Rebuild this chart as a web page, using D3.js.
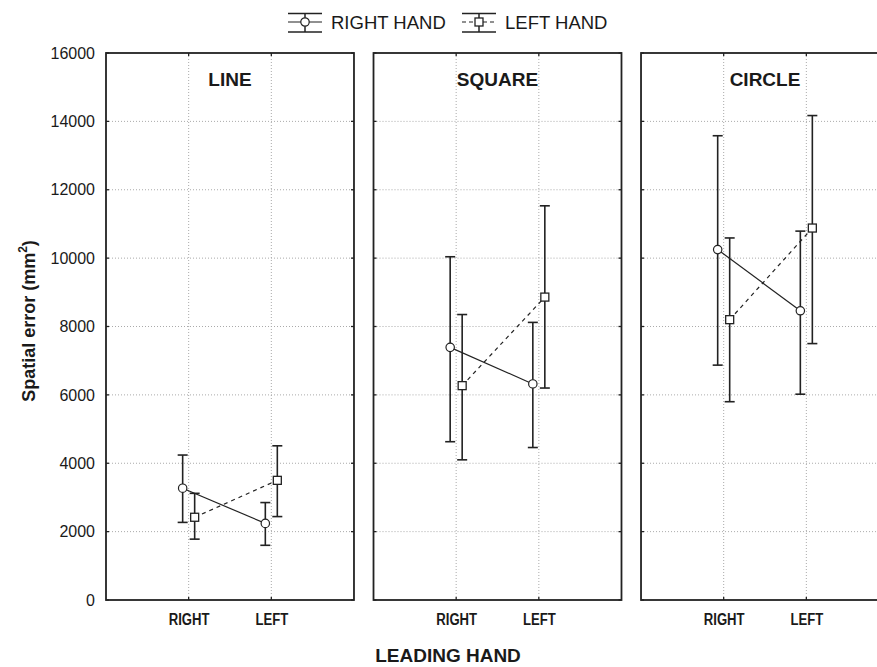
<!DOCTYPE html>
<html>
<head>
<meta charset="utf-8">
<script src="https://cdn.jsdelivr.net/npm/d3@7"></script>
<style>
  html, body { margin: 0; padding: 0; background: #fff; }
  svg { display: block; font-family: "Liberation Sans", Arial, sans-serif; }
</style>
</head>
<body>
<svg id="chart" width="877" height="667"></svg>
<script>
// ---- data ----
const panels = ["LINE", "SQUARE", "CIRCLE"];
const categories = ["RIGHT", "LEFT"];
const seriesNames = ["RIGHT HAND", "LEFT HAND"];
const yTicks = [0, 2000, 4000, 6000, 8000, 10000, 12000, 14000, 16000];

// per panel: [RIGHT, LEFT]
const rightHandMean = [[3270, 2240], [7390, 6320], [10250, 8460]];
const rightHandLow  = [[2270, 1600], [4630, 4460], [6870, 6020]];
const rightHandHigh = [[4240, 2850], [10040, 8120], [13580, 10790]];
const leftHandMean  = [[2420, 3500], [6270, 8860], [8200, 10880]];
const leftHandLow   = [[1780, 2440], [4100, 6200], [5800, 7500]];
const leftHandHigh  = [[3120, 4510], [8350, 11530], [10590, 14170]];

const series = [
  { name: seriesNames[0], mean: rightHandMean, low: rightHandLow, high: rightHandHigh, marker: "circle", dash: null, offset: -6 },
  { name: seriesNames[1], mean: leftHandMean, low: leftHandLow, high: leftHandHigh, marker: "square", dash: "4,4", offset: 6 }
];

const svg = d3.select("#chart");
const plotTop = 53, plotBottom = 600;
const y = d3.scaleLinear().domain([0, 16000]).range([plotBottom, plotTop]);
const panelX = d3.scaleBand().domain(panels).range([106, 889]).paddingInner(0.073).paddingOuter(0);
const pw = panelX.bandwidth();
const x = d3.scalePoint().domain(categories).range([pw / 3, 2 * pw / 3]);

// y axis labels
const yAxis = d3.axisLeft(y).tickValues(yTicks).tickSize(0).tickPadding(11).tickFormat(d3.format("d"));
const yg = svg.append("g").attr("transform", `translate(${panelX(panels[0])},0)`).call(yAxis);
yg.select(".domain").remove();
yg.selectAll("text").attr("font-size", 16).attr("fill", "#1a1a1a").attr("font-family", "Liberation Sans, Arial, sans-serif");

panels.forEach((p, pi) => {
  const g = svg.append("g").attr("transform", `translate(${panelX(p)},0)`);

  // gridlines
  g.selectAll(".hgrid").data(yTicks.filter(t => t > 0 && t < 16000)).join("line")
    .attr("x1", 0).attr("x2", pw).attr("y1", d => y(d)).attr("y2", d => y(d))
    .attr("stroke", "#aaa").attr("stroke-width", 1).attr("stroke-dasharray", "1,2");
  g.selectAll(".vgrid").data(categories).join("line")
    .attr("x1", d => x(d)).attr("x2", d => x(d)).attr("y1", plotTop).attr("y2", plotBottom)
    .attr("stroke", "#aaa").attr("stroke-width", 1).attr("stroke-dasharray", "1,2");

  // inward ticks
  g.selectAll(".ytl").data(yTicks).join("line")
    .attr("x1", 0).attr("x2", 3).attr("y1", d => y(d)).attr("y2", d => y(d))
    .attr("stroke", "#222").attr("stroke-width", 1.3);
  g.selectAll(".ytr").data(yTicks).join("line")
    .attr("x1", pw - 3).attr("x2", pw).attr("y1", d => y(d)).attr("y2", d => y(d))
    .attr("stroke", "#222").attr("stroke-width", 1.3);
  g.selectAll(".xtt").data(categories).join("line")
    .attr("x1", d => x(d)).attr("x2", d => x(d)).attr("y1", plotTop).attr("y2", plotTop + 3)
    .attr("stroke", "#222").attr("stroke-width", 1.3);
  g.selectAll(".xtb").data(categories).join("line")
    .attr("x1", d => x(d)).attr("x2", d => x(d)).attr("y1", plotBottom - 3).attr("y2", plotBottom)
    .attr("stroke", "#222").attr("stroke-width", 1.3);

  // frame
  g.append("rect").attr("x", 0).attr("y", plotTop).attr("width", pw).attr("height", plotBottom - plotTop)
    .attr("fill", "none").attr("stroke", "#222").attr("stroke-width", 1.8);

  // category labels
  const xAxis = d3.axisBottom(x).tickSize(0).tickPadding(0);
  const xg = g.append("g").attr("transform", `translate(0,${plotBottom + 14})`).call(xAxis);
  xg.select(".domain").remove();
  xg.selectAll("text").attr("font-size", 16).attr("font-weight", "bold").attr("fill", "#1a1a1a")
    .attr("font-family", "Liberation Sans, Arial, sans-serif")
    .attr("transform", "scale(0.82,1)");

  // title
  g.append("text").attr("x", pw / 2).attr("y", 86).attr("text-anchor", "middle")
    .attr("font-size", 19).attr("font-weight", "bold").attr("fill", "#1a1a1a").text(p);

  // series
  series.forEach(s => {
    const pts = categories.map((c, ci) => ({
      cx: x(c) + s.offset, m: s.mean[pi][ci], lo: s.low[pi][ci], hi: s.high[pi][ci]
    }));
    const line = d3.line().x(d => d.cx).y(d => y(d.m));
    g.append("path").attr("d", line(pts)).attr("fill", "none").attr("stroke", "#222")
      .attr("stroke-width", 1.2).attr("stroke-dasharray", s.dash);
    const eb = g.selectAll(null).data(pts).join("g");
    eb.append("line").attr("x1", d => d.cx).attr("x2", d => d.cx).attr("y1", d => y(d.lo)).attr("y2", d => y(d.hi))
      .attr("stroke", "#222").attr("stroke-width", 1.6);
    eb.append("line").attr("x1", d => d.cx - 5).attr("x2", d => d.cx + 5).attr("y1", d => y(d.lo)).attr("y2", d => y(d.lo))
      .attr("stroke", "#222").attr("stroke-width", 1.6);
    eb.append("line").attr("x1", d => d.cx - 5).attr("x2", d => d.cx + 5).attr("y1", d => y(d.hi)).attr("y2", d => y(d.hi))
      .attr("stroke", "#222").attr("stroke-width", 1.6);
    if (s.marker === "circle") {
      eb.append("circle").attr("cx", d => d.cx).attr("cy", d => y(d.m)).attr("r", 4.2)
        .attr("fill", "#fff").attr("stroke", "#222").attr("stroke-width", 1.2);
    } else {
      eb.append("rect").attr("x", d => d.cx - 4).attr("y", d => y(d.m) - 4).attr("width", 8).attr("height", 8)
        .attr("fill", "#fff").attr("stroke", "#222").attr("stroke-width", 1.3);
    }
  });
});

// axis titles
svg.append("text").attr("transform", `translate(35,321) rotate(-90)`).attr("text-anchor", "middle")
  .attr("font-size", 18).attr("font-weight", "bold").attr("fill", "#1a1a1a")
  .call(t => {
    t.append("tspan").text("Spatial error (mm");
    t.append("tspan").attr("font-size", 12).attr("dy", -8).text("2");
    t.append("tspan").attr("dy", 8).text(")");
  });
svg.append("text").attr("x", 448).attr("y", 662).attr("text-anchor", "middle")
  .attr("font-size", 19).attr("font-weight", "bold").attr("fill", "#1a1a1a").text("LEADING HAND");

// legend
const legendX = [288, 462];
series.forEach((s, i) => {
  const lg = svg.append("g").attr("transform", `translate(${legendX[i]},0)`);
  const w = 34, cx = 17;
  lg.append("line").attr("x1", 0).attr("x2", w).attr("y1", 13.5).attr("y2", 13.5).attr("stroke", "#222").attr("stroke-width", 1.5);
  lg.append("line").attr("x1", 0).attr("x2", w).attr("y1", 32).attr("y2", 32).attr("stroke", "#222").attr("stroke-width", 1.5);
  lg.append("line").attr("x1", cx).attr("x2", cx).attr("y1", 13.5).attr("y2", 32).attr("stroke", "#222").attr("stroke-width", 1.5);
  lg.append("line").attr("x1", 0).attr("x2", w).attr("y1", 22).attr("y2", 22).attr("stroke", "#222").attr("stroke-width", 1.2)
    .attr("stroke-dasharray", s.dash ? "4,3" : null);
  if (s.marker === "circle") {
    lg.append("circle").attr("cx", cx).attr("cy", 22).attr("r", 4.2).attr("fill", "#fff").attr("stroke", "#222").attr("stroke-width", 1.2);
  } else {
    lg.append("rect").attr("x", cx - 4).attr("y", 18).attr("width", 8).attr("height", 8).attr("fill", "#fff").attr("stroke", "#222").attr("stroke-width", 1.3);
  }
  lg.append("text").attr("x", w + 9).attr("y", 28.5).attr("font-size", 18.5).attr("fill", "#1a1a1a").text(s.name);
});
</script>
</body>
</html>
